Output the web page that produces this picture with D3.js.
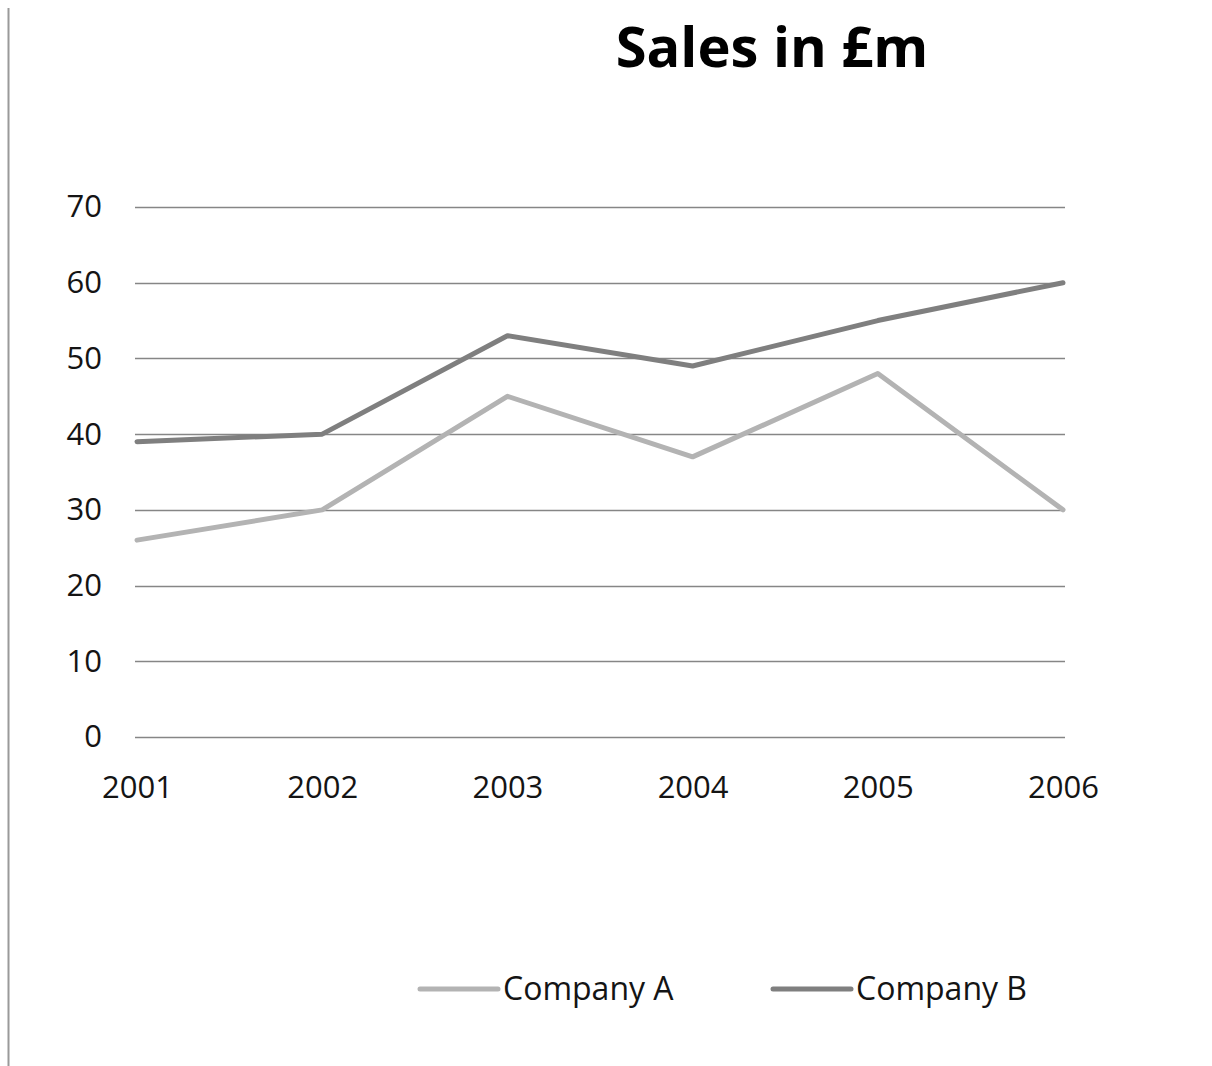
<!DOCTYPE html>
<html>
<head>
<meta charset="utf-8">
<script src="https://cdn.jsdelivr.net/npm/d3@7"></script>
<style>
  html, body { margin: 0; padding: 0; background: #fff; }
  svg { display: block; }
</style>
</head>
<body>
<svg id="chart" width="1212" height="1066"></svg>
<script>
// Sales figures (£m) per year for two companies
const years = ["2001", "2002", "2003", "2004", "2005", "2006"];
const companyA = [26, 30, 45, 37, 48, 30];
const companyB = [39, 40, 53, 49, 55, 60];
const yTicks = [0, 10, 20, 30, 40, 50, 60, 70];
const seriesNames = ["Company A", "Company B"];
const seriesColors = ["#b3b3b3", "#7f7f7f"];

const font = "'Open Sans', 'DejaVu Sans', sans-serif";
const svg = d3.select("#chart");

// frame edge on the left
svg.append("line")
  .attr("x1", 8.5).attr("x2", 8.5)
  .attr("y1", 8).attr("y2", 1066)
  .attr("stroke", "#9a9a9a").attr("stroke-width", 2);

const x = d3.scalePoint().domain(years).range([137, 1063]);
const y = d3.scaleLinear().domain([0, 70]).range([737, 207]);

// title
svg.append("text")
  .attr("x", 772).attr("y", 67)
  .attr("text-anchor", "middle")
  .attr("font-family", font).attr("font-weight", "bold")
  .attr("font-size", 56).attr("fill", "#000")
  .text("Sales in £m");

// horizontal gridlines
svg.append("g")
  .selectAll("line").data(yTicks).join("line")
  .attr("x1", 135).attr("x2", 1065)
  .attr("y1", d => Math.round(y(d)) + 0.5).attr("y2", d => Math.round(y(d)) + 0.5)
  .attr("stroke", "#868686").attr("stroke-width", 1.7);

// y axis labels
const yAxis = d3.axisLeft(y).tickValues(yTicks).tickSize(0).tickPadding(0);
const gy = svg.append("g").attr("transform", "translate(102,0)").call(yAxis);
gy.select(".domain").remove();
gy.selectAll("text")
  .attr("font-family", font).attr("font-size", 31).attr("fill", "#141414");

// x axis labels
const xAxis = d3.axisBottom(x).tickSize(0).tickPadding(0);
const gx = svg.append("g").attr("transform", "translate(0,776)").call(xAxis);
gx.select(".domain").remove();
gx.selectAll("text")
  .attr("font-family", font).attr("font-size", 31).attr("fill", "#141414");

// series lines
const line = d3.line()
  .x((d, i) => x(years[i]))
  .y(d => y(d));

[companyA, companyB].forEach((vals, k) => {
  svg.append("path")
    .datum(vals)
    .attr("d", line)
    .attr("fill", "none")
    .attr("stroke", seriesColors[k])
    .attr("stroke-width", 5)
    .attr("stroke-linejoin", "round")
    .attr("stroke-linecap", "round");
});

// legend
const legendX = [420, 773];
seriesNames.forEach((name, k) => {
  const g = svg.append("g").attr("transform", `translate(${legendX[k]},989)`);
  g.append("line")
    .attr("x1", 0).attr("x2", 78)
    .attr("y1", 0).attr("y2", 0)
    .attr("stroke", seriesColors[k]).attr("stroke-width", 5)
    .attr("stroke-linecap", "round");
  g.append("text")
    .attr("x", 83).attr("y", 0).attr("dy", "0.35em")
    .attr("font-family", font).attr("font-size", 32).attr("fill", "#141414")
    .text(name);
});
</script>
</body>
</html>
